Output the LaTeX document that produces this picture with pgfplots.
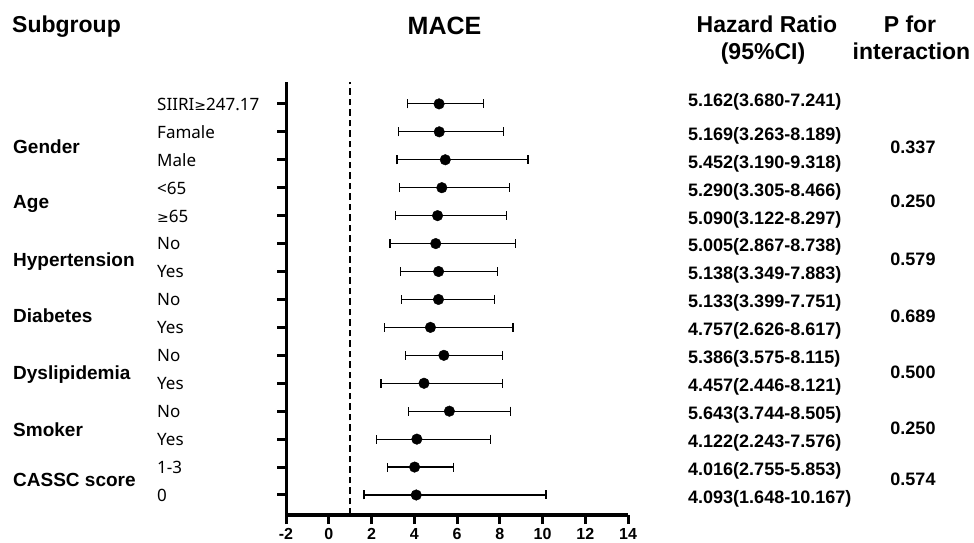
\documentclass[border=0pt]{standalone}
\usepackage{fontspec}
\setmainfont{Liberation Sans}
\newfontfamily\labfont{Noto Sans}
\newfontfamily\symfont{DejaVu Sans}
\usepackage{pgfplots}
\usepackage{pgfplotstable}
\pgfplotsset{compat=1.18}

% row (15 = top), hazard ratio, lower and upper 95% CI
\pgfplotstableread{
y hr lo hi
15 5.162 3.680 7.241
14 5.169 3.263 8.189
13 5.452 3.190 9.318
12 5.290 3.305 8.466
11 5.090 3.122 8.297
10 5.005 2.867 8.738
9 5.138 3.349 7.883
8 5.133 3.399 7.751
7 4.757 2.626 8.617
6 5.386 3.575 8.115
5 4.457 2.446 8.121
4 5.643 3.744 8.505
3 4.122 2.243 7.576
2 4.016 2.755 5.853
1 4.093 1.648 10.167
}\mace

% y measured from the top of the picture
\def\Y#1{{543-(#1)}}
\newcommand{\gesym}{{\symfont\fontsize{14bp}{14bp}\selectfont ≥}}

\begin{document}
\begin{tikzpicture}
\useasboundingbox (0,0) rectangle (974bp,543bp);
\begin{scope}[shift={(286bp,28bp)}]
\begin{axis}[
  anchor=south west,
  scale only axis, width=342bp, height=433bp,
  xmin=-2, xmax=14, ymin=0.284, ymax=15.784,
  axis lines*=left,
  axis line style={line width=3bp},
  xtick={-2,0,...,14}, ytick={1,...,15}, yticklabels={},
  tick align=outside, major tick length=9bp,
  tick style={line width=3bp, black},
  xticklabel style={font=\fontsize{16bp}{16bp}\selectfont\bfseries, inner sep=0pt, anchor=north, yshift=-4bp},
  /pgf/number format/assume math mode=true,
  clip=false,
]
\draw[line width=2.6bp, dash pattern=on 6.5bp off 4bp] (axis cs:1,0.284) -- (axis cs:1,15.784);
\addplot[only marks, mark=*, mark size=5.3bp, black,
  error bars/.cd, x dir=both, x explicit,
  error bar style={line width=1.2bp, black},
  error mark options={rotate=90, line width=1.2bp, mark size=4.5bp}]
  table[x=hr, y=y,
    x error plus expr=\thisrow{hi}-\thisrow{hr},
    x error minus expr=\thisrow{hr}-\thisrow{lo}] {\mace};
\end{axis}
\end{scope}

\begin{scope}[x=1bp,y=1bp]
% headers
\node[anchor=base west, inner sep=0pt, font=\fontsize{23bp}{23bp}\selectfont\bfseries] at (12,\Y{33}) {Subgroup};
\node[anchor=base, inner sep=0pt, font=\fontsize{25bp}{25bp}\selectfont\bfseries] at (444.5,\Y{35}) {MACE};
\node[anchor=base, inner sep=0pt, font=\fontsize{23bp}{23bp}\selectfont\bfseries] at (767,\Y{33}) {Hazard Ratio};
\node[anchor=base, inner sep=0pt, font=\fontsize{23bp}{23bp}\selectfont\bfseries] at (763,\Y{60}) {(95\%CI)};
\node[anchor=base, inner sep=0pt, font=\fontsize{23bp}{23bp}\selectfont\bfseries] at (910,\Y{33}) {P for};
\node[anchor=base, inner sep=0pt, font=\fontsize{23bp}{23bp}\selectfont\bfseries] at (911.5,\Y{60}) {interaction};

% row labels
\foreach \t [count=\i from 0] in {SIIRI\gesym247.17, Famale, Male, <65, \gesym65, No, Yes, No, Yes, No, Yes, No, Yes, 1-3, 0}
  \node[anchor=base west, inner sep=0pt, font=\labfont\fontsize{17bp}{17bp}\selectfont] at (157, \Y{104.3+27.93*\i+6}) {\t};

% group labels
\foreach \t/\yy in {Gender/147, Age/202, Hypertension/260, Diabetes/316, Dyslipidemia/373, Smoker/430, CASSC score/480}
  \node[anchor=base west, inner sep=0pt, font=\fontsize{19bp}{19bp}\selectfont\bfseries] at (13, \Y{\yy+6.8}) {\t};

% hazard ratio text
\node[anchor=base west, inner sep=0pt, font=\fontsize{18bp}{18bp}\selectfont\bfseries] at (688, \Y{106.5}) {5.162(3.680-7.241)};
\foreach \t [count=\i from 1] in {5.169(3.263-8.189), 5.452(3.190-9.318), 5.290(3.305-8.466), 5.090(3.122-8.297), 5.005(2.867-8.738), 5.138(3.349-7.883), 5.133(3.399-7.751), 4.757(2.626-8.617), 5.386(3.575-8.115), 4.457(2.446-8.121), 5.643(3.744-8.505), 4.122(2.243-7.576), 4.016(2.755-5.853), 4.093(1.648-10.167)}
  \node[anchor=base west, inner sep=0pt, font=\fontsize{18bp}{18bp}\selectfont\bfseries] at (688, \Y{104.3+27.93*\i+8}) {\t};

% p for interaction
\foreach \t/\yy in {0.337/147, 0.250/201, 0.579/259, 0.689/316, 0.500/372, 0.250/428, 0.574/479}
  \node[anchor=base, inner sep=0pt, font=\fontsize{18bp}{18bp}\selectfont\bfseries] at (913, \Y{\yy+6.5}) {\t};
\end{scope}
\end{tikzpicture}
\end{document}
